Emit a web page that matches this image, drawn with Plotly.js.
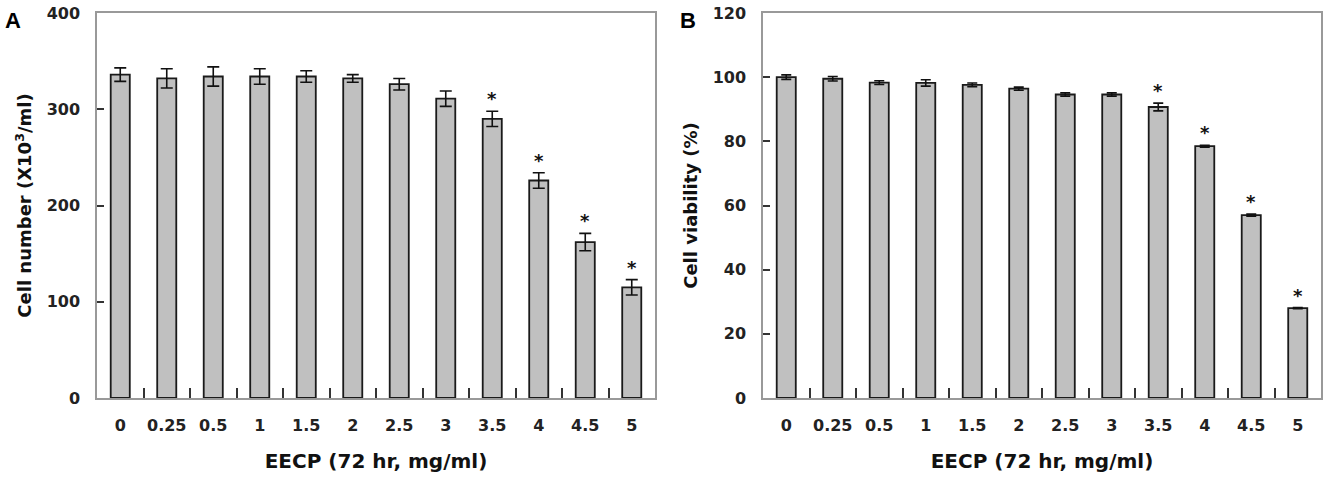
<!DOCTYPE html>
<html>
<head>
<meta charset="utf-8">
<script src="https://cdn.plot.ly/plotly-3.0.1.min.js"></script>
<style>html,body{margin:0;padding:0;background:#fff;}#chart{width:1330px;height:478px;}</style>
</head>
<body>
<div id="chart"></div>
<script>
// ---- data ----
const doses = ['0','0.25','0.5','1','1.5','2','2.5','3','3.5','4','4.5','5'];
const cellNumber = [336, 332, 334, 334, 334, 332, 326, 311, 290, 226, 162, 115];
const cellNumberErr = [7, 10, 10, 8, 6, 4, 6, 8, 8, 8, 9, 8];
const cellNumberSig = [0,0,0,0,0,0,0,0,1,1,1,1];
const viability = [100, 99.5, 98.3, 98.2, 97.6, 96.4, 94.6, 94.6, 90.7, 78.5, 57, 28];
const viabilityErr = [0.7, 0.7, 0.6, 1.0, 0.6, 0.5, 0.5, 0.5, 1.2, 0.3, 0.3, 0.2];
const viabilitySig = [0,0,0,0,0,0,0,0,1,1,1,1];
const yTicksA = [0, 100, 200, 300, 400];
const yTicksB = [0, 20, 40, 60, 80, 100, 120];

const FONT = 'DejaVu Sans, Arial, sans-serif';
const W = 1330, H = 478;
const px = v => v / W, py = v => 1 - v / H;

function barTrace(y, err, xa, ya, capw) {
  return {
    type: 'bar', x: doses, y: y, xaxis: xa, yaxis: ya,
    marker: {color: '#c0c0c0', line: {color: '#1a1a1a', width: 1.8}},
    error_y: {type: 'data', array: err, visible: true, color: '#111', thickness: 1.6, width: capw},
    hoverinfo: 'x+y', showlegend: false
  };
}

const data = [
  barTrace(cellNumber, cellNumberErr, 'x', 'y', 6),
  barTrace(viability, viabilityErr, 'x2', 'y2', 5)
];

const tickFont = {family: FONT, size: 16, weight: 'bold', color: '#222'};
const titleFontX = {family: FONT, size: 20, weight: 'bold', color: '#111'};
const titleFontY = {family: FONT, size: 18, weight: 'bold', color: '#111'};

function xAxis(d0, d1, anchor) {
  return {
    domain: [px(d0), px(d1)], anchor: anchor, type: 'category',
    showline: true, linecolor: '#999', linewidth: 1.5, mirror: true,
    ticks: 'inside', tickson: 'boundaries', ticklen: 10, tickwidth: 1.6, tickcolor: '#333',
    tickfont: tickFont, ticklabelstandoff: 12, tickangle: 0,
    title: {text: 'EECP (72 hr, mg/ml)', font: titleFontX, standoff: 20},
    showgrid: false, zeroline: false, fixedrange: true
  };
}
function yAxis(anchor, range, ticks, title) {
  return {
    domain: [py(398), py(13)], anchor: anchor, range: range,
    tickvals: ticks, ticktext: ticks.map(String),
    showline: true, linecolor: '#999', linewidth: 1.5, mirror: true,
    ticks: 'inside', ticklen: 7, tickwidth: 1.6, tickcolor: '#333',
    tickfont: tickFont, ticklabelstandoff: 12,
    title: {text: title, font: titleFontY, standoff: 10},
    showgrid: false, zeroline: false, fixedrange: true
  };
}

const annotations = [
  {text: 'A', x: px(3), y: py(20), xref: 'paper', yref: 'paper', xanchor: 'left', yanchor: 'middle', showarrow: false,
   font: {family: 'Liberation Sans, Arial, sans-serif', size: 22, weight: 'bold', color: '#000'}},
  {text: 'B', x: px(678), y: py(20), xref: 'paper', yref: 'paper', xanchor: 'left', yanchor: 'middle', showarrow: false,
   font: {family: 'Liberation Sans, Arial, sans-serif', size: 22, weight: 'bold', color: '#000'}}
];
function stars(vals, errs, sig, xr, yr) {
  vals.forEach((v, i) => {
    if (sig[i]) annotations.push({
      text: '*', x: i, y: v + errs[i], xref: xr, yref: yr, showarrow: false,
      xanchor: 'center', yanchor: 'bottom', yshift: 0,
      font: {family: FONT, size: 18, weight: 'bold', color: '#111'}
    });
  });
}
stars(cellNumber, cellNumberErr, cellNumberSig, 'x', 'y');
stars(viability, viabilityErr, viabilitySig, 'x2', 'y2');

const layout = {
  width: W, height: H,
  margin: {l: 0, r: 0, t: 0, b: 0},
  paper_bgcolor: '#fff', plot_bgcolor: '#fff',
  bargap: 0.59,
  xaxis: xAxis(97, 655, 'y'),
  yaxis: yAxis('x', [0, 400], yTicksA, 'Cell number (X10<sup>3</sup>/ml)'),
  xaxis2: xAxis(763, 1321, 'y2'),
  yaxis2: yAxis('x2', [0, 120], yTicksB, 'Cell viability (%)'),
  annotations: annotations,
  showlegend: false
};

Plotly.newPlot('chart', data, layout, {displayModeBar: false, staticPlot: false});
</script>
</body>
</html>
